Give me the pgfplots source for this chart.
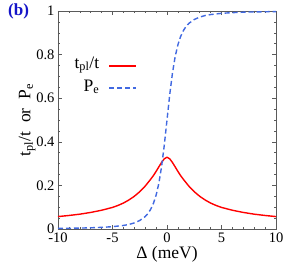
\documentclass[border=0pt]{standalone}
\usepackage{fontspec}
\setmainfont{Liberation Serif}
\usepackage{pgfplots}
\pgfplotsset{compat=1.18}
\definecolor{pblue}{RGB}{65,105,225}
\definecolor{lblue}{RGB}{20,20,200}
\definecolor{framegray}{RGB}{90,90,90}
\newcommand{\legfont}{\fontsize{17.5}{20}\selectfont}
\begin{document}
\begin{tikzpicture}
\path[use as bounding box] (-58pt,-44pt) rectangle (234pt,229pt);
\begin{axis}[
  at={(0pt,0pt)}, anchor=south west,
  scale only axis, width=218pt, height=218pt,
  xmin=-10, xmax=10, ymin=0, ymax=1,
  xtick={-10,-5,0,5,10}, ytick={0,0.2,0.4,0.6,0.8,1},
  minor x tick num=4, minor y tick num=3,
  tick align=inside,
  major tick length=4pt, minor tick length=2pt,
  axis line style={framegray, line width=0.8pt},
  every tick/.style={framegray, line width=0.5pt},
  /pgf/number format/assume math mode=true,
  ticklabel style={font=\fontsize{14.5}{16}\selectfont},
  label style={font=\legfont},
  xlabel={Δ (meV)},
  ylabel={t\textsubscript{pl}/t\ \ or\ \ P\textsubscript{e}},
  xlabel style={yshift=3pt},
  ylabel style={yshift=-6pt},
  clip=false,
]
\addplot[red, line width=1.4pt] coordinates {
(-10,0.057) (-9,0.062) (-8,0.068) (-7,0.076) (-6,0.086) (-5,0.099) (-4.5,0.108)
(-4,0.119) (-3.5,0.133) (-3,0.150) (-2.5,0.171) (-2,0.197) (-1.5,0.228) (-1.25,0.245)
(-1,0.264) (-0.75,0.285) (-0.5,0.305) (-0.25,0.322) (0,0.329)
(0.25,0.322) (0.5,0.305) (0.75,0.285) (1,0.264) (1.25,0.245) (1.5,0.228) (2,0.197)
(2.5,0.171) (3,0.150) (3.5,0.133) (4,0.119) (4.5,0.108) (5,0.099) (6,0.086)
(7,0.076) (8,0.068) (9,0.062) (10,0.057)
};
\addplot[pblue, line width=1.4pt, dash pattern=on 5pt off 3pt] coordinates {
(-10,0.0027) (-9,0.0034) (-8,0.0042) (-7,0.0055) (-6,0.0075) (-5,0.0107) (-4,0.0163)
(-3.5,0.0207) (-3,0.028) (-2.5,0.039) (-2,0.057) (-1.75,0.071) (-1.5,0.090) (-1.25,0.117)
(-1,0.155) (-0.75,0.209) (-0.5,0.285) (-0.25,0.384) (0,0.5)
(0.25,0.616) (0.5,0.715) (0.75,0.791) (1,0.845) (1.25,0.883) (1.5,0.910) (1.75,0.929)
(2,0.943) (2.5,0.961) (3,0.972) (3.5,0.9793) (4,0.9837) (5,0.9893) (6,0.9925)
(7,0.9945) (8,0.9958) (9,0.9966) (10,0.9973)
};
% legend keys
\addplot[red, line width=1.4pt, forget plot] coordinates {(-5.32,0.748) (-2.84,0.748)};
\addplot[pblue, line width=1.4pt, dash pattern=on 5pt off 3pt, forget plot] coordinates {(-5.32,0.647) (-2.84,0.647)};
\node[anchor=east, font=\legfont, inner sep=0pt] at (axis cs:-6.2,0.752) {t\textsubscript{pl}/t};
\node[anchor=east, font=\legfont, inner sep=0pt] at (axis cs:-6.2,0.652) {P\textsubscript{e}};
\end{axis}
\node[anchor=north west, text=lblue, font=\bfseries\fontsize{17}{19}\selectfont, inner sep=0pt] at (-50pt,225pt) {(b)};
\end{tikzpicture}
\end{document}
